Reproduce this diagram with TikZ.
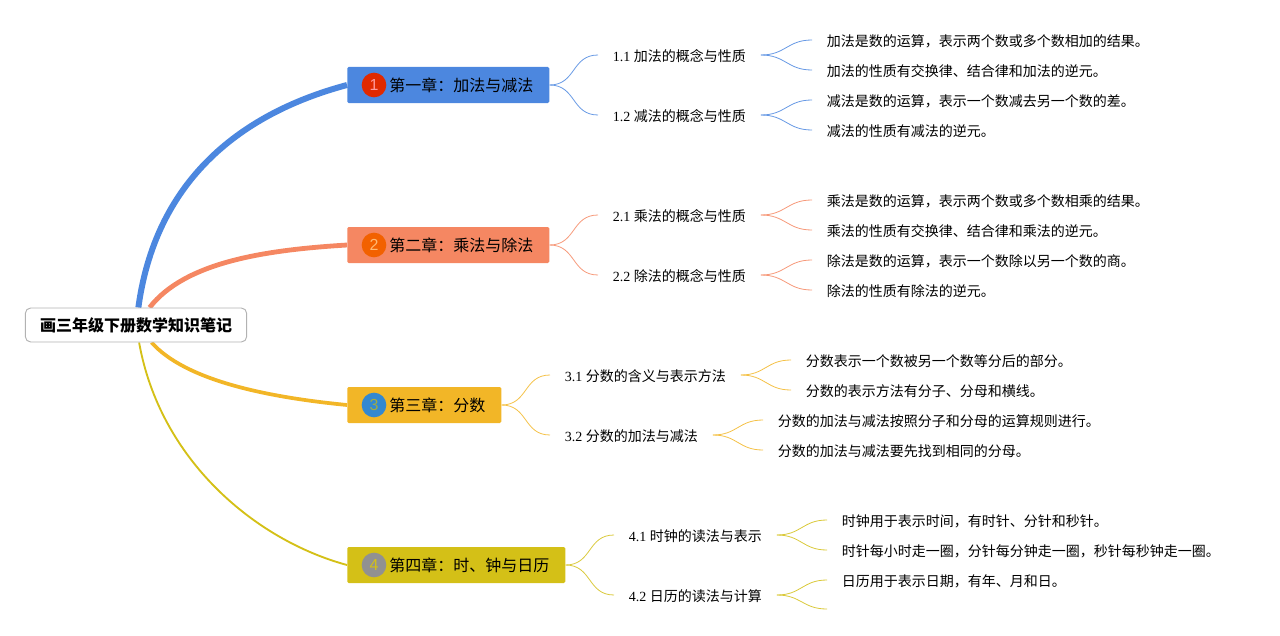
\documentclass[tikz,border=0pt]{standalone}
\usepackage{fontspec}
\setmainfont{Liberation Serif}
\newfontfamily\cjk{Noto Sans CJK SC}
\newfontfamily\numfont{Liberation Sans}
\usepackage{xcolor}
\usetikzlibrary{backgrounds}
\definecolor{bluebr}{HTML}{4C87DF}
\definecolor{orangebr}{HTML}{F58762}
\definecolor{goldbr}{HTML}{F2B627}
\definecolor{yellowbr}{HTML}{D4C017}
\newcommand{\zhcomma}{\char"FF0C\relax}
\newcommand{\zhcolon}{\char"FF1A\relax}
\tikzset{
    rootbox/.style={draw=black!30,line width=0.7pt,fill=white,rounded corners=4pt,font=\cjk\bfseries\fontsize{12pt}{14pt}\selectfont,minimum width=166pt,minimum height=25.5pt,inner sep=0pt,text height=11pt,text depth=1.1pt},
    chapbox/.style={anchor=west,rounded corners=1pt,fill=#1,font=\cjk\fontsize{12pt}{14pt}\selectfont,minimum height=27pt,inner xsep=12pt,inner ysep=0pt,text height=11pt,text depth=1.1pt},
    numdot/.style={circle,fill=#1,minimum size=18.5pt,inner sep=0pt,font=\numfont\fontsize{12pt}{14pt}\selectfont},
    subbox/.style={anchor=west,font=\fontsize{10.5pt}{12pt}\selectfont,inner xsep=11pt,inner ysep=2pt,text height=10pt,text depth=1pt},
    leafbox/.style={anchor=west,font=\cjk\fontsize{10.5pt}{12pt}\selectfont,inner xsep=11pt,inner ysep=2pt,text height=10pt,text depth=0.8pt},
    twig/.style={draw=#1!85,line width=0.6pt,out=0,in=180,looseness=1.2},
}
\begin{document}
\begin{tikzpicture}[x=0.75pt,y=-0.75pt]
    \useasboundingbox (0,0) rectangle (1280,635);

    \node[rootbox] (root) at (136,325) {画三年级下册数学知识笔记};

    \node[chapbox=bluebr] (ch1) at (347,85) {\hspace{19.5pt}第一章\zhcolon 加法与减法};
    \node[chapbox=orangebr] (ch2) at (347,245) {\hspace{19.5pt}第二章\zhcolon 乘法与除法};
    \node[chapbox=goldbr] (ch3) at (347,405) {\hspace{19.5pt}第三章\zhcolon 分数};
    \node[chapbox=yellowbr] (ch4) at (347,565) {\hspace{19.5pt}第四章\zhcolon 时、钟与日历};
    \node[numdot={red!75!black!60!orange!80!red},text=red!40!white] (dot1) at (374,85) {1};
    \node[numdot={orange!80!red!95!black},text=orange!55!white] (dot2) at (374,245) {2};
    \node[numdot={cyan!60!blue!85!white},text=green!25!goldbr!60!gray] (dot3) at (374,405) {3};
    \node[numdot=black!43,text=yellowbr] (dot4) at (374,565) {4};

    % chapter 1
    \node[subbox] (s11) at (598,55) {1.1 {\cjk 加法的概念与性质}};
    \node[subbox] (s12) at (598,115) {1.2 {\cjk 减法的概念与性质}};
    \node[leafbox] (l111) at (812,40) {加法是数的运算\zhcomma 表示两个数或多个数相加的结果。};
    \node[leafbox] (l112) at (812,70) {加法的性质有交换律、结合律和加法的逆元。};
    \node[leafbox] (l121) at (812,100) {减法是数的运算\zhcomma 表示一个数减去另一个数的差。};
    \node[leafbox] (l122) at (812,130) {减法的性质有减法的逆元。};
    % chapter 2
    \node[subbox] (s21) at (598,215) {2.1 {\cjk 乘法的概念与性质}};
    \node[subbox] (s22) at (598,275) {2.2 {\cjk 除法的概念与性质}};
    \node[leafbox] (l211) at (812,200) {乘法是数的运算\zhcomma 表示两个数或多个数相乘的结果。};
    \node[leafbox] (l212) at (812,230) {乘法的性质有交换律、结合律和乘法的逆元。};
    \node[leafbox] (l221) at (812,260) {除法是数的运算\zhcomma 表示一个数除以另一个数的商。};
    \node[leafbox] (l222) at (812,290) {除法的性质有除法的逆元。};
    % chapter 3
    \node[subbox] (s31) at (550,375) {3.1 {\cjk 分数的含义与表示方法}};
    \node[subbox] (s32) at (550,435) {3.2 {\cjk 分数的加法与减法}};
    \node[leafbox] (l311) at (791,360) {分数表示一个数被另一个数等分后的部分。};
    \node[leafbox] (l312) at (791,390) {分数的表示方法有分子、分母和横线。};
    \node[leafbox] (l321) at (763,420) {分数的加法与减法按照分子和分母的运算规则进行。};
    \node[leafbox] (l322) at (763,450) {分数的加法与减法要先找到相同的分母。};
    % chapter 4
    \node[subbox] (s41) at (614,535) {4.1 {\cjk 时钟的读法与表示}};
    \node[subbox] (s42) at (614,595) {4.2 {\cjk 日历的读法与计算}};
    \node[leafbox] (l411) at (827,520) {时钟用于表示时间\zhcomma 有时针、分针和秒针。};
    \node[leafbox] (l412) at (827,550) {时针每小时走一圈\zhcomma 分针每分钟走一圈\zhcomma 秒针每秒钟走一圈。};
    \node[leafbox] (l421) at (827,580) {日历用于表示日期\zhcomma 有年、月和日。};
    \coordinate (l422) at (827,609);

    % main branches
    \begin{scope}[on background layer]
    \draw[bluebr,line width=4.5pt] (root) .. controls (155,185) and (235,115) .. (ch1.west);
    \draw[orangebr,line width=3.6pt] (root) .. controls (185,262) and (265,250) .. (ch2.west);
    \draw[goldbr,line width=2.8pt] (root) .. controls (185,380) and (265,397) .. (ch3.west);
    \draw[yellowbr,line width=1.4pt] (root) .. controls (160,460) and (255,540) .. (ch4.west);
    \end{scope}

    % twigs
    \draw[twig=bluebr] (ch1.east) to (s11.west);
    \draw[twig=bluebr] (ch1.east) to (s12.west);
    \draw[twig=bluebr] (s11.east) to (l111.west);
    \draw[twig=bluebr] (s11.east) to (l112.west);
    \draw[twig=bluebr] (s12.east) to (l121.west);
    \draw[twig=bluebr] (s12.east) to (l122.west);
    \draw[twig=orangebr] (ch2.east) to (s21.west);
    \draw[twig=orangebr] (ch2.east) to (s22.west);
    \draw[twig=orangebr] (s21.east) to (l211.west);
    \draw[twig=orangebr] (s21.east) to (l212.west);
    \draw[twig=orangebr] (s22.east) to (l221.west);
    \draw[twig=orangebr] (s22.east) to (l222.west);
    \draw[twig=goldbr] (ch3.east) to (s31.west);
    \draw[twig=goldbr] (ch3.east) to (s32.west);
    \draw[twig=goldbr] (s31.east) to (l311.west);
    \draw[twig=goldbr] (s31.east) to (l312.west);
    \draw[twig=goldbr] (s32.east) to (l321.west);
    \draw[twig=goldbr] (s32.east) to (l322.west);
    \draw[twig=yellowbr] (ch4.east) to (s41.west);
    \draw[twig=yellowbr] (ch4.east) to (s42.west);
    \draw[twig=yellowbr] (s41.east) to (l411.west);
    \draw[twig=yellowbr] (s41.east) to (l412.west);
    \draw[twig=yellowbr] (s42.east) to (l421.west);
    \draw[twig=yellowbr] (s42.east) to (l422);
\end{tikzpicture}
\end{document}
